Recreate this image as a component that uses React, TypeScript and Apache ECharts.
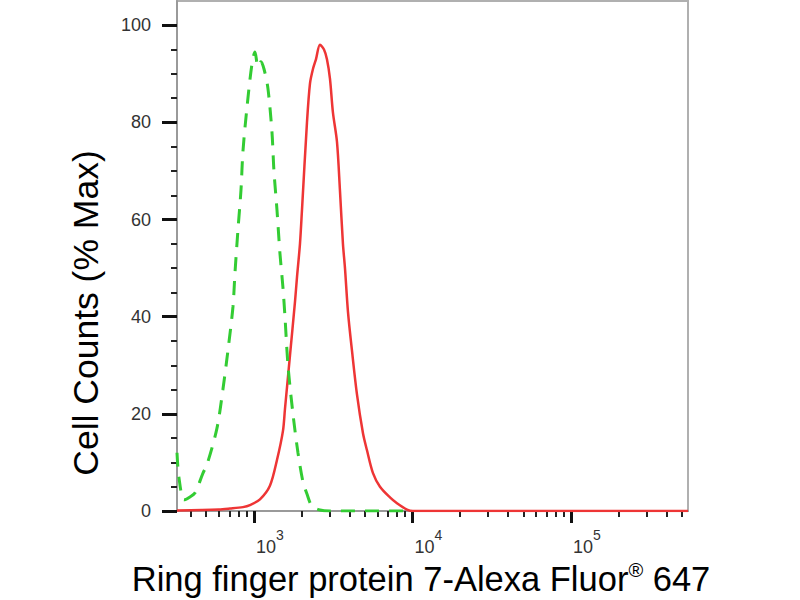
import React, { useEffect, useRef } from 'react';
import * as echarts from 'echarts';

const FONT = "Arial, 'Liberation Sans', Helvetica, sans-serif";

const xMin = 327;
const xMax = 547000;
const yMin = 0;
const yMax = 105;

const yMajorTicks = [0, 20, 40, 60, 80, 100];
const yMinorTicks = [5, 10, 15, 25, 30, 35, 45, 50, 55, 65, 70, 75, 85, 90, 95];
const xMajorTicks = [1000, 10000, 100000];
const xMinorTicks = [
  400, 500, 600, 700, 800, 900,
  2000, 3000, 4000, 5000, 6000, 7000, 8000, 9000,
  20000, 30000, 40000, 50000, 60000, 70000, 80000, 90000,
  200000, 300000, 400000, 500000,
];

const xTitle = 'Ring finger protein 7-Alexa Fluor';
const xTitleSup = '®';
const xTitleTail = ' 647';
const yTitle = 'Cell Counts (% Max)';

// Isotype control (green dashed): [fluorescence, % max]
const isotypeData: [number, number][] = [
  [327, 12], [336, 7], [362, 2.3], [390, 2.8], [424, 3.7], [477, 7.8], [505, 9.5],
  [584, 17], [637, 25], [685, 33], [737, 42], [759, 49], [793, 58], [828, 66],
  [852, 74], [903, 83], [971, 92], [1015, 94.5], [1060, 91.5], [1107, 92.5],
  [1157, 91], [1225, 87], [1299, 78], [1337, 70], [1397, 62], [1459, 53],
  [1524, 46], [1569, 40], [1639, 30], [1762, 20], [1895, 12], [2038, 6],
  [2160, 3.5], [2322, 1], [2609, 0.2], [3000, 0], [9800, 0],
];

// Ring finger protein 7 antibody (red solid)
const antibodyData: [number, number][] = [
  [327, 0.1], [600, 0.3], [706, 0.5], [852, 0.8], [943, 1.2], [1091, 2.4],
  [1261, 5.2], [1397, 10.5], [1524, 16.5], [1569, 21], [1687, 32], [1814, 43],
  [1867, 48], [1951, 55], [2009, 62], [2160, 80], [2256, 88], [2356, 91],
  [2461, 93], [2609, 96], [2765, 95], [2887, 93], [3016, 89], [3150, 82],
  [3340, 76], [3487, 66], [3642, 55], [3751, 50], [3918, 41], [4153, 33],
  [4465, 24], [4872, 16], [5164, 12.5], [5634, 7.8], [6237, 5], [7211, 2.8],
  [7984, 1.6], [9232, 0.3], [10070, 0], [547000, 0],
];

export default function App() {
  const ref = useRef<HTMLDivElement>(null);

  useEffect(() => {
    if (!ref.current) return;
    const chart = echarts.init(ref.current, null, { renderer: 'svg' });
    const axisGray = '#9a9a9a';
    const tickDark = '#111111';
    const labelColor = '#333333';

    chart.setOption({
      animation: false,
      backgroundColor: '#ffffff',
      grid: {
        left: 177,
        right: 112,
        top: 1,
        bottom: 89,
        show: true,
        borderColor: '#b0b0b0',
        borderWidth: 2,
        backgroundColor: 'transparent',
      },
      xAxis: [
        {
          type: 'log',
          logBase: 10,
          min: xMin,
          max: xMax,
          position: 'bottom',
          axisLine: { show: true, lineStyle: { color: axisGray, width: 2 } },
          axisTick: {
            show: true,
            customValues: xMajorTicks,
            length: 12,
            lineStyle: { color: tickDark, width: 3 },
          },
          axisLabel: {
            show: true,
            customValues: xMajorTicks,
            align: 'left',
            margin: 17,
            padding: [0, 0, 0, 2],
            formatter: (val: number) => `{b|10}{s|${Math.round(Math.log10(val))}}`,
            rich: {
              b: { fontSize: 18, lineHeight: 28, verticalAlign: 'bottom', color: labelColor, fontFamily: FONT },
              s: { fontSize: 14, verticalAlign: 'top', color: labelColor, fontFamily: FONT },
            },
          },
          splitLine: { show: false },
          minorTick: { show: false },
        },
        {
          type: 'log',
          logBase: 10,
          min: xMin,
          max: xMax,
          position: 'bottom',
          offset: 0,
          axisLine: { show: false },
          axisTick: {
            show: true,
            customValues: xMinorTicks,
            length: 6,
            lineStyle: { color: '#222222', width: 2 },
          },
          axisLabel: { show: false },
          splitLine: { show: false },
        },
      ],
      yAxis: [
        {
          type: 'value',
          min: yMin,
          max: yMax,
          position: 'left',
          axisLine: { show: true, lineStyle: { color: axisGray, width: 2 } },
          axisTick: {
            show: true,
            customValues: yMajorTicks,
            length: 15,
            lineStyle: { color: tickDark, width: 3 },
          },
          axisLabel: {
            show: true,
            customValues: yMajorTicks,
            margin: 26,
            fontSize: 18,
            color: labelColor,
            fontFamily: FONT,
          },
          splitLine: { show: false },
        },
        {
          type: 'value',
          min: yMin,
          max: yMax,
          position: 'left',
          offset: 0,
          axisLine: { show: false },
          axisTick: {
            show: true,
            customValues: yMinorTicks,
            length: 6,
            lineStyle: { color: '#222222', width: 2 },
          },
          axisLabel: { show: false },
          splitLine: { show: false },
        },
      ],
      series: [
        {
          name: 'Ring finger protein 7',
          type: 'line',
          xAxisIndex: 0,
          yAxisIndex: 0,
          data: antibodyData,
          showSymbol: false,
          smooth: 0.3,
          lineStyle: { color: '#ee3535', width: 2.5, type: 'solid' },
          z: 2,
        },
        {
          name: 'Isotype control',
          type: 'line',
          xAxisIndex: 0,
          yAxisIndex: 0,
          data: isotypeData,
          showSymbol: false,
          smooth: 0.3,
          lineStyle: { color: '#33cc33', width: 3, type: [14, 10] },
          z: 3,
        },
      ],
      graphic: [
        {
          type: 'text',
          x: 86,
          y: 313,
          rotation: Math.PI / 2,
          style: {
            text: yTitle,
            font: `35.5px ${FONT}`,
            fill: '#000',
            textAlign: 'center',
            textVerticalAlign: 'middle',
          },
        },
        {
          type: 'text',
          x: 421,
          y: 578,
          style: {
            text: `{m|${xTitle}}{r|${xTitleSup}}{m|${xTitleTail}}`,
            fill: '#000',
            textAlign: 'center',
            textVerticalAlign: 'middle',
            rich: {
              m: { fontSize: 34.5, fontFamily: FONT, fill: '#000', lineHeight: 37, verticalAlign: 'bottom' },
              r: { fontSize: 20, fontFamily: FONT, fill: '#000', verticalAlign: 'top' },
            },
          },
        },
      ],
    });

    return () => {
      chart.dispose();
    };
  }, []);

  return (
    <div
      ref={ref}
      style={{ position: 'fixed', left: 0, top: 0, width: 800, height: 600, background: '#fff' }}
    />
  );
}
